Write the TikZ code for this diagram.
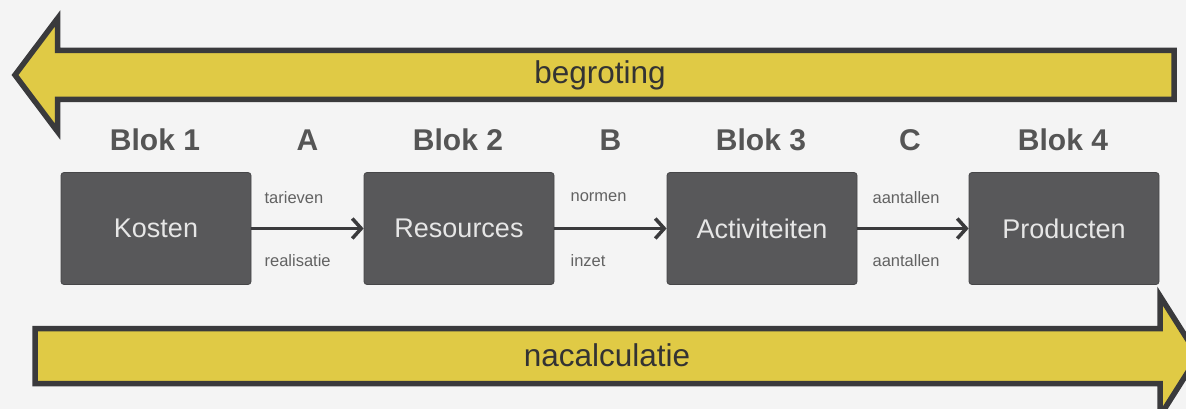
\documentclass[tikz,border=0pt]{standalone}
\usepackage{fontspec}
\setmainfont{Liberation Sans}
\usetikzlibrary{arrows.meta}
\definecolor{bgc}{HTML}{F4F4F4}
\definecolor{yel}{HTML}{E0CA45}
\definecolor{edgec}{HTML}{3A3A3C}
\definecolor{boxc}{HTML}{58585A}
\definecolor{boxtxt}{HTML}{E6E6E6}
\definecolor{hdtxt}{HTML}{555555}
\definecolor{smtxt}{HTML}{626262}
\tikzset{
  bigarrow/.style={fill=yel, draw=edgec, line width=5.5pt, line join=miter},
  blok/.style={rectangle, rounded corners=3pt, fill=boxc, draw=boxc!80!black, line width=0.8pt,
    minimum width=190pt, minimum height=112pt, inner sep=0pt,
    text=boxtxt, font=\fontsize{27}{31}\selectfont},
  head/.style={text=hdtxt, font=\bfseries\fontsize{30}{34}\selectfont, inner sep=0pt},
  bigtxt/.style={text=black!80, font=\fontsize{31.5}{35}\selectfont, inner sep=0pt},
  small/.style={text=smtxt, font=\fontsize{16.5}{19}\selectfont, inner sep=0pt, anchor=west},
  conn/.style={draw=edgec, line width=3.5pt, -{Straight Barb[length=9pt,width=20pt,line width=3.5pt]}}
}
\begin{document}
\begin{tikzpicture}[x=1pt,y=-1pt]
\useasboundingbox (0,0) rectangle (1186,409);
\fill[bgc] (0,0) rectangle (1186,409);
\clip (0,0) rectangle (1186,409);
% top arrow (begroting)
\draw[bigarrow] (15,75) -- (57.5,18.5) -- (57.5,50.5) -- (1174,50.5) -- (1174,99.5)
  -- (57.5,99.5) -- (57.5,131.5) -- cycle;
\node[bigtxt] (beg) at (600,75) {begroting};
% bottom arrow (nacalculatie)
\draw[bigarrow] (35,328.5) -- (1160,328.5) -- (1160,296) -- (1198,356) -- (1160,416)
  -- (1160,383.5) -- (35,383.5) -- cycle;
\node[bigtxt] (nac) at (607,355) {nacalculatie};
% headers
\node[head] (h1) at (155,140) {Blok 1};
\node[head] (hA) at (307.5,140) {A};
\node[head] (h2) at (458,140) {Blok 2};
\node[head] (hB) at (610.5,140) {B};
\node[head] (h3) at (761,140) {Blok 3};
\node[head] (hC) at (910,140) {C};
\node[head] (h4) at (1063,140) {Blok 4};
% boxes
\node[blok] (k1) at (156,228.5) {Kosten};
\node[blok] (k2) at (459,228.5) {Resources};
\node[blok] (k3) at (762,228.5) {Activiteiten};
\node[blok] (k4) at (1064,228.5) {Producten};
% connectors
\draw[conn] (k1.east) -- (k2.west);
\draw[conn] (k2.east) -- (k3.west);
\draw[conn] (k3.east) -- (k4.west);
% small labels
\node[small] (l1) at ([shift={(13,-31)}]k1.east) {tarieven};
\node[small] (l2) at ([shift={(13,32)}]k1.east) {realisatie};
\node[small] (l3) at ([shift={(16,-31)}]k2.east) {normen};
\node[small] (l4) at ([shift={(16,32)}]k2.east) {inzet};
\node[small] (l5) at ([shift={(15,-31)}]k3.east) {aantallen};
\node[small] (l6) at ([shift={(15,32)}]k3.east) {aantallen};
\end{tikzpicture}
\end{document}
